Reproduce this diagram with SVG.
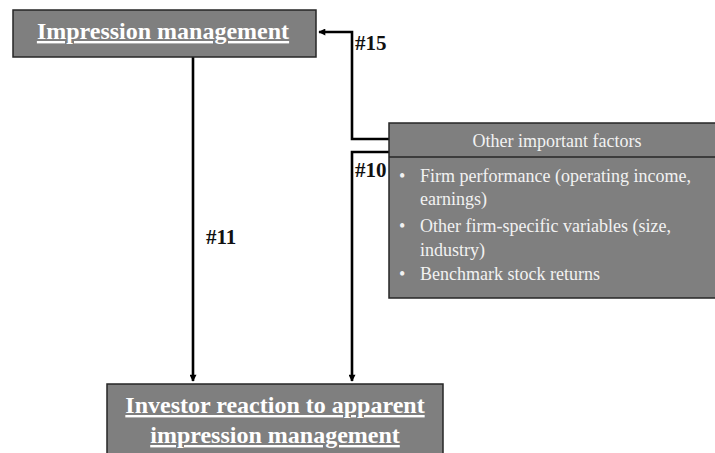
<svg xmlns="http://www.w3.org/2000/svg" width="715" height="453" viewBox="0 0 715 453">
  <defs>
    <marker id="arrow" viewBox="0 0 10 10" refX="9" refY="5" markerWidth="8" markerHeight="7" orient="auto-start-reverse" markerUnits="userSpaceOnUse">
      <path d="M0,0 L10,5 L0,10 z" fill="#000"/>
    </marker>
  </defs>
  <style>
    .box { fill: #7f7f7f; stroke: #262626; stroke-width: 1.5; }
    .title { font-family: "Liberation Serif", "Times New Roman", serif; font-weight: bold; font-size: 24px; fill: #fff; text-decoration: underline; }
    .body { font-family: "Liberation Serif", "Times New Roman", serif; font-size: 18px; fill: #f2f2f2; }
    .lbl { font-family: "Liberation Serif", "Times New Roman", serif; font-weight: bold; font-size: 21px; fill: #111; }
    .conn { fill: none; stroke: #000; stroke-width: 2.6; }
  </style>
  <rect width="715" height="453" fill="#fff"/>

  <g id="connectors">
    <path class="conn" d="M193,57 V381" marker-end="url(#arrow)"/>
    <path class="conn" d="M389,139 H352 V32 H319" marker-end="url(#arrow)"/>
    <path class="conn" d="M389,152 H352 V381" marker-end="url(#arrow)"/>
    <text class="lbl" x="206" y="244">#11</text>
    <text class="lbl" x="355" y="50">#15</text>
    <text class="lbl" x="355" y="177">#10</text>
  </g>

  <g id="impression-management">
    <rect class="box" x="13" y="10" width="303" height="47"/>
    <text class="title" x="163" y="39" text-anchor="middle">Impression management</text>
  </g>

  <g id="other-factors">
    <rect class="box" x="389" y="123" width="330" height="175"/>
    <line x1="389" y1="157" x2="719" y2="157" stroke="#262626" stroke-width="1.5"/>
    <text class="body" x="557" y="147" text-anchor="middle">Other important factors</text>
    <text class="body">
      <tspan x="399" y="182">•</tspan><tspan x="420" y="182">Firm performance (operating income,</tspan>
      <tspan x="420" y="205">earnings)</tspan>
      <tspan x="399" y="232">•</tspan><tspan x="420" y="232">Other firm-specific variables (size,</tspan>
      <tspan x="420" y="256">industry)</tspan>
      <tspan x="399" y="280">•</tspan><tspan x="420" y="280">Benchmark stock returns</tspan>
    </text>
  </g>

  <g id="investor-reaction">
    <rect class="box" x="107" y="384" width="336" height="75"/>
    <text class="title" x="275" y="413" text-anchor="middle">Investor reaction to apparent</text>
    <text class="title" x="275" y="443" text-anchor="middle">impression management</text>
  </g>
</svg>
